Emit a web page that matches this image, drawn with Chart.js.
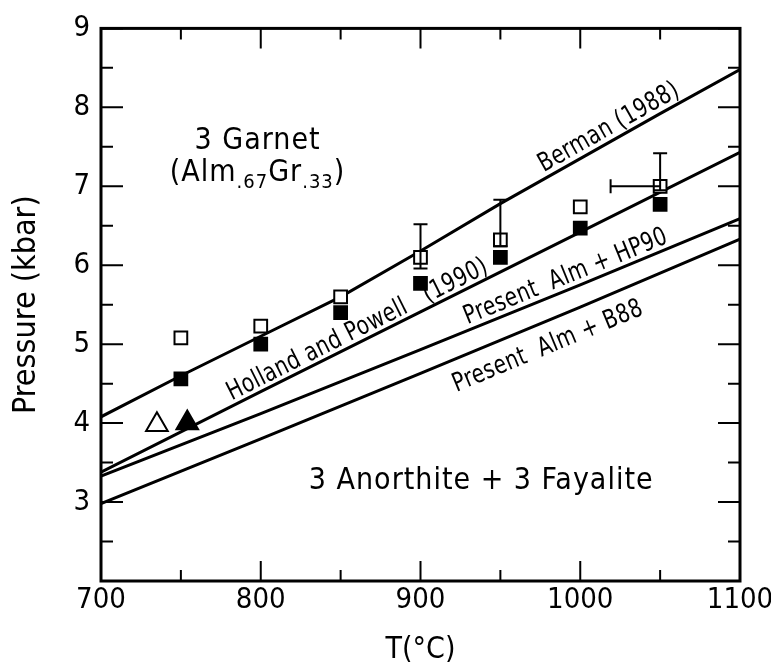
<!DOCTYPE html>
<html>
<head>
<meta charset="utf-8">
<script src="https://cdn.jsdelivr.net/npm/chart.js@4.4.1/dist/chart.umd.min.js"></script>
<style>
  html, body { margin: 0; padding: 0; background: #fff; }
  #wrap { width: 771px; height: 668px; }
</style>
</head>
<body>
<div id="wrap"><canvas id="chart" width="771" height="668"></canvas></div>
<script>
// axis ticks
let xMajor = [700, 800, 900, 1000, 1100];
let xMinor = [750, 850, 950, 1050];
let yMajor = [2, 3, 4, 5, 6, 7, 8, 9];
let yMinor = [2.5, 3.5, 4.5, 5.5, 6.5, 7.5, 8.5];

// reaction curves, T (C) and P (kbar)
let bermanT = [700, 750, 800, 850, 900, 950, 1000, 1050, 1100];
let bermanP = [4.08, 4.60, 5.10, 5.60, 6.18, 6.78, 7.35, 7.92, 8.48];
let hpT = [700, 800, 900, 1000, 1100];
let hpP = [3.38, 4.40, 5.41, 6.42, 7.43];
let hp90T = [700, 800, 900, 1000, 1100];
let hp90P = [3.33, 4.12, 4.93, 5.75, 6.59];
let b88T = [700, 800, 900, 1000, 1100];
let b88P = [2.98, 3.80, 4.63, 5.47, 6.33];

// experiments
let openSqT = [750, 800, 850, 900, 950, 1000, 1050];
let openSqP = [5.08, 5.23, 5.60, 6.10, 6.32, 6.74, 7.00];
let fillSqT = [750, 800, 850, 900, 950, 1000, 1050];
let fillSqP = [4.56, 5.00, 5.40, 5.77, 6.10, 6.47, 6.77];
let openTriT = [735];
let openTriP = [3.98];
let fillTriT = [754];
let fillTriP = [4.00];

// error bars on the open squares
let errT = [900, 950, 1050];
let errLo = [5.96, 6.24, 6.95];
let errHi = [6.52, 6.83, 7.42];
let errXLo = [null, null, 1019];

const FONT = "'DejaVu Sans Condensed', 'DejaVu Sans', sans-serif";

function pts(xs, ys) {
  return xs.map((x, i) => ({ x: x, y: ys[i] }));
}

function lineSet(xs, ys) {
  return {
    data: pts(xs, ys),
    showLine: true,
    borderColor: '#000',
    borderWidth: 3,
    pointRadius: 0,
    tension: 0,
    fill: false
  };
}

function markSet(xs, ys, style, r, filled) {
  return {
    data: pts(xs, ys),
    showLine: false,
    pointStyle: style,
    pointRadius: r,
    pointHoverRadius: r,
    borderColor: '#000',
    borderWidth: 2,
    backgroundColor: filled ? '#000' : '#fff'
  };
}

// text running along a curve, baseline centred at temperature t,
// gap > 0 puts it above the curve, gap < 0 below
function lineLabel(ctx, chart, text, xs, ys, t, gap, size, sx) {
  let X = chart.scales.x, Y = chart.scales.y;
  let i = 0;
  while (i < xs.length - 2 && xs[i + 1] < t) i++;
  let x0 = X.getPixelForValue(xs[i]), y0 = Y.getPixelForValue(ys[i]);
  let x1 = X.getPixelForValue(xs[i + 1]), y1 = Y.getPixelForValue(ys[i + 1]);
  let f = (t - xs[i]) / (xs[i + 1] - xs[i]);
  ctx.save();
  ctx.translate(x0 + f * (x1 - x0), y0 + f * (y1 - y0));
  ctx.rotate(Math.atan2(y1 - y0, x1 - x0));
  ctx.scale(sx, 1);
  ctx.font = size + 'px ' + FONT;
  ctx.letterSpacing = '0.5px';
  ctx.textAlign = 'center';
  ctx.textBaseline = 'alphabetic';
  ctx.fillText(text, 0, -gap);
  ctx.restore();
}

// plain horizontal text centred at (t, p)
function textAt(ctx, chart, text, t, p, size) {
  ctx.save();
  ctx.font = size + 'px ' + FONT;
  ctx.letterSpacing = '1px';
  ctx.textAlign = 'center';
  ctx.textBaseline = 'middle';
  ctx.fillText(text, chart.scales.x.getPixelForValue(t), chart.scales.y.getPixelForValue(p));
  ctx.restore();
}

// (Alm.67Gr.33) with subscripts
function subLabel(ctx, chart, t, p) {
  let parts = [['(Alm', 0], ['.67', 1], ['Gr', 0], ['.33', 1], [')', 0]];
  let x = chart.scales.x.getPixelForValue(t);
  let y = chart.scales.y.getPixelForValue(p);
  ctx.save();
  ctx.letterSpacing = '1px';
  ctx.textBaseline = 'middle';
  ctx.textAlign = 'left';
  let total = 0;
  parts.forEach(pt => {
    ctx.font = (pt[1] ? 20 : 30) + 'px ' + FONT;
    total += ctx.measureText(pt[0]).width;
  });
  let cx = x - total / 2;
  parts.forEach(pt => {
    ctx.font = (pt[1] ? 20 : 30) + 'px ' + FONT;
    ctx.fillText(pt[0], cx, y + (pt[1] ? 9 : 0));
    cx += ctx.measureText(pt[0]).width;
  });
  ctx.restore();
}

let decor = {
  id: 'decor',
  beforeDraw(chart) {
    let ctx = chart.ctx;
    ctx.save();
    ctx.fillStyle = '#fff';
    ctx.fillRect(0, 0, chart.width, chart.height);
    ctx.restore();
  },
  afterDatasetsDraw(chart) {
    let ctx = chart.ctx;
    let a = chart.chartArea;
    let sx = chart.scales.x, sy = chart.scales.y;
    ctx.save();
    ctx.strokeStyle = '#000';
    ctx.fillStyle = '#000';

    // error bars
    ctx.lineWidth = 2;
    errT.forEach((t, i) => {
      let x = sx.getPixelForValue(t);
      let y0 = sy.getPixelForValue(errLo[i]);
      let y1 = sy.getPixelForValue(errHi[i]);
      ctx.beginPath();
      ctx.moveTo(x, y0); ctx.lineTo(x, y1);
      ctx.moveTo(x - 7, y0); ctx.lineTo(x + 7, y0);
      ctx.moveTo(x - 7, y1); ctx.lineTo(x + 7, y1);
      ctx.stroke();
      if (errXLo[i] != null) {
        let xl = sx.getPixelForValue(errXLo[i]);
        let yc = sy.getPixelForValue(openSqP[openSqT.indexOf(t)]);
        ctx.beginPath();
        ctx.moveTo(xl, yc); ctx.lineTo(x, yc);
        ctx.moveTo(xl, yc - 7); ctx.lineTo(xl, yc + 7);
        ctx.stroke();
      }
    });

    // frame
    ctx.lineWidth = 3;
    ctx.strokeRect(a.left, a.top, a.right - a.left, a.bottom - a.top);

    // inward ticks on all four sides
    ctx.lineWidth = 2;
    ctx.beginPath();
    let tx = (v, len) => {
      let x = sx.getPixelForValue(v);
      ctx.moveTo(x, a.bottom); ctx.lineTo(x, a.bottom - len);
      ctx.moveTo(x, a.top); ctx.lineTo(x, a.top + len);
    };
    let ty = (v, len) => {
      let y = sy.getPixelForValue(v);
      ctx.moveTo(a.left, y); ctx.lineTo(a.left + len, y);
      ctx.moveTo(a.right, y); ctx.lineTo(a.right - len, y);
    };
    xMajor.forEach(v => tx(v, 20));
    xMinor.forEach(v => tx(v, 11));
    yMajor.forEach(v => ty(v, 22));
    yMinor.forEach(v => ty(v, 12));
    ctx.stroke();
    ctx.restore();
  },
  afterDraw(chart) {
    let ctx = chart.ctx;
    ctx.save();
    ctx.fillStyle = '#000';
    lineLabel(ctx, chart, 'Berman (1988)', bermanT, bermanP, 1022, 6, 26, 0.86);
    lineLabel(ctx, chart, 'Holland and Powell   (1990)', hpT, hpP, 864, 5, 26, 0.86);
    lineLabel(ctx, chart, 'Present  Alm + HP90', hp90T, hp90P, 994, 6, 26, 0.86);
    lineLabel(ctx, chart, 'Present  Alm + B88', b88T, b88P, 974, -31, 26, 0.86);
    textAt(ctx, chart, '3 Garnet', 798, 7.57, 30);
    subLabel(ctx, chart, 798, 7.16);
    textAt(ctx, chart, '3 Anorthite + 3 Fayalite', 938, 3.27, 30);
    ctx.restore();
  }
};

let ctx = document.getElementById('chart').getContext('2d');
let chart = new Chart(ctx, {
  type: 'scatter',
  data: {
    datasets: [
      markSet(openTriT, openTriP, 'triangle', 12.5, false),
      markSet(fillTriT, fillTriP, 'triangle', 12.5, true),
      markSet(openSqT, openSqP, 'rect', 9, false),
      markSet(fillSqT, fillSqP, 'rect', 9, true),
      lineSet(bermanT, bermanP),
      lineSet(hpT, hpP),
      lineSet(hp90T, hp90P),
      lineSet(b88T, b88P)
    ]
  },
  options: {
    responsive: false,
    animation: false,
    events: [],
    layout: { padding: { top: 22, right: 31, bottom: 0, left: 0 } },
    plugins: {
      legend: { display: false },
      tooltip: { enabled: false }
    },
    scales: {
      x: {
        type: 'linear',
        min: 700,
        max: 1100,
        afterBuildTicks: s => { s.ticks = xMajor.map(v => ({ value: v })); },
        afterFit: s => { s.height = 87; s.paddingLeft = 0; s.paddingRight = 0; },
        grid: { display: false, drawTicks: false },
        border: { display: false },
        ticks: {
          color: '#000',
          padding: 2,
          font: { family: FONT, size: 29 },
          callback: v => String(v)
        },
        title: {
          display: true,
          text: 'T(°C)',
          color: '#000',
          padding: { top: 0, bottom: 0 },
          font: { family: FONT, size: 30 }
        }
      },
      y: {
        type: 'linear',
        min: 2,
        max: 9,
        afterBuildTicks: s => { s.ticks = yMajor.map(v => ({ value: v })); },
        afterFit: s => { s.width = 101; },
        grid: { display: false, drawTicks: false },
        border: { display: false },
        ticks: {
          color: '#000',
          padding: 11,
          font: { family: FONT, size: 29 },
          callback: v => (v === 2 ? '' : String(v))
        },
        title: {
          display: true,
          text: 'Pressure (kbar)',
          color: '#000',
          padding: { top: 7, bottom: 0 },
          font: { family: FONT, size: 32 }
        }
      }
    }
  },
  plugins: [decor]
});
</script>
</body>
</html>
